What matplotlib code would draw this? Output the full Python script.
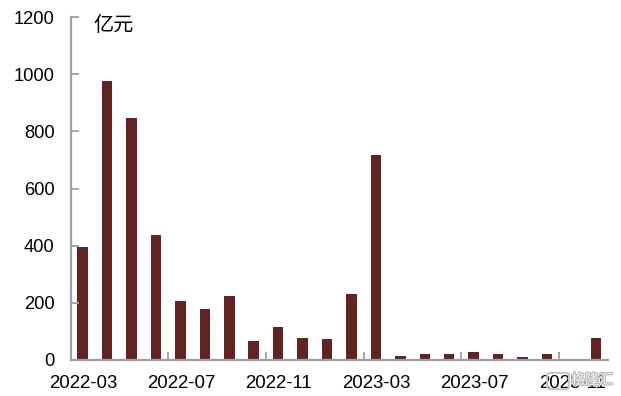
import matplotlib
matplotlib.use("Agg")
import matplotlib.pyplot as plt
import matplotlib.patheffects as pe
from matplotlib.patches import FancyBboxPatch

months = ["2022-03","2022-04","2022-05","2022-06","2022-07","2022-08","2022-09","2022-10","2022-11","2022-12","2023-01","2023-02",
          "2023-03","2023-04","2023-05","2023-06","2023-07","2023-08","2023-09","2023-10","2023-11","2023-12"]
values = [395,975,848,438,205,180,225,65,115,78,72,230,718,15,22,22,28,22,10,22,0,78]
unit = "亿元"
watermark = "格隆汇"

W, H = 621, 396
plt.rcParams['font.family'] = ['Liberation Sans', 'Noto Sans CJK SC', 'DejaVu Sans']
fig = plt.figure(figsize=(W/100, H/100), dpi=100)
L, R, T, B = 70.5, 608, 17, 360
ax = fig.add_axes([L/W, 1-B/H, (R-L)/W, (B-T)/H])
x = list(range(len(months)))
ax.bar(x, values, width=0.43, color="#622423", linewidth=0)
ax.set_xlim(-0.5, len(months)-0.5)
ax.set_ylim(0, 1200)
ax.set_yticks(range(0, 1201, 200))
ax.tick_params(axis='y', direction='in', length=6, width=1.3, color="#a0a0a0", labelsize=13.2, pad=11.5, labelcolor="#000000")
ax.set_xticks([3.5, 7.5, 11.5, 15.5, 19.5])
ax.set_xticklabels([])
ax.tick_params(axis='x', direction='in', length=6, width=1.3, color="#a0a0a0")
for i in range(0, len(months), 4):
    ax.annotate(months[i], xy=(i, 0), xycoords=('data', 'axes fraction'), xytext=(0.5, -10.5),
                textcoords='offset points', ha='center', va='top', fontsize=13.4, color="#000000", annotation_clip=False)
for s in ('top', 'right'):
    ax.spines[s].set_visible(False)
for s in ('left', 'bottom'):
    ax.spines[s].set_color("#a0a0a0")
    ax.spines[s].set_linewidth(1.6)
fig.text(113.5/W, 1-25/H, unit, fontsize=14.5, ha='center', va='center', color="#000000")

halo = [pe.withStroke(linewidth=1.6, foreground="#b8b8b8")]
fig.text(592/W, 1-380/H, watermark, fontsize=10, ha='center', va='center', color="#f2f2f2", path_effects=halo, zorder=10)
fig.patches.append(FancyBboxPatch((549/W, 1-388/H), 18/W, 14/H, boxstyle="round,pad=0.003,rounding_size=0.006",
                                  transform=fig.transFigure, fill=False, edgecolor="#c4c4c4", linewidth=1.4, zorder=10))
fig.savefig("out.png", dpi=100)
